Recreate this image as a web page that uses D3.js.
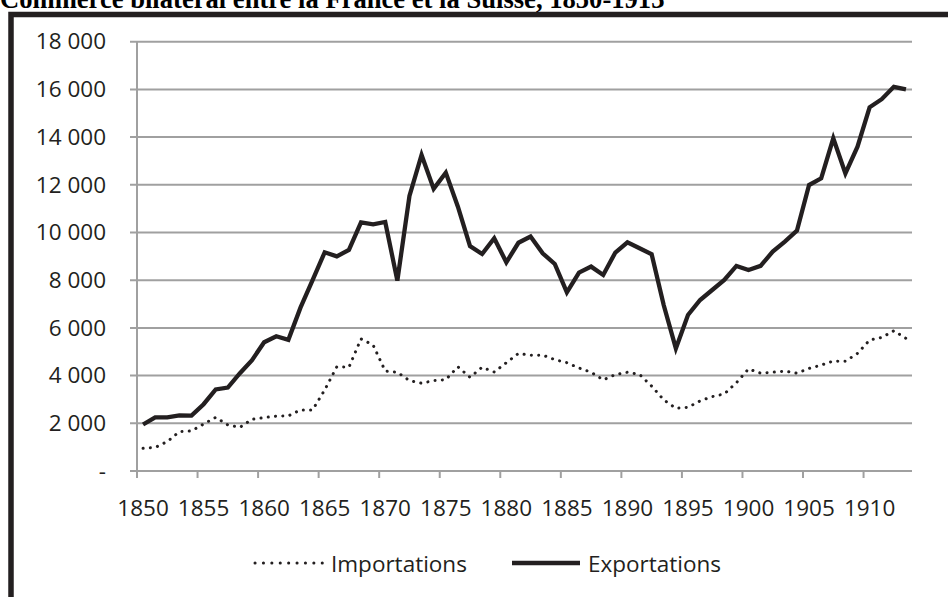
<!DOCTYPE html>
<html lang="fr">
<head>
<meta charset="UTF-8" />
<title>Commerce bilatéral entre la France et la Suisse, 1850-1913</title>
<style>
  html, body { margin: 0; background: #fff; }
  svg { display: block; }
  .axis text { font-family: "Open Sans", sans-serif; font-size: 22.5px; fill: #231f20; }
  .legend text { font-family: "Open Sans", sans-serif; font-size: 22.5px; fill: #231f20; }
  .title { font-family: "Liberation Serif", "Times New Roman", serif; font-weight: bold; font-size: 26.6px; fill: #000; }
</style>
<script src="https://cdn.jsdelivr.net/npm/d3@7"></script>
</head>
<body>
<script>
// données
const years = [
  1850, 1851, 1852, 1853, 1854, 1855, 1856, 1857, 1858, 1859,
  1860, 1861, 1862, 1863, 1864, 1865, 1866, 1867, 1868, 1869,
  1870, 1871, 1872, 1873, 1874, 1875, 1876, 1877, 1878, 1879,
  1880, 1881, 1882, 1883, 1884, 1885, 1886, 1887, 1888, 1889,
  1890, 1891, 1892, 1893, 1894, 1895, 1896, 1897, 1898, 1899,
  1900, 1901, 1902, 1903, 1904, 1905, 1906, 1907, 1908, 1909,
  1910, 1911, 1912, 1913
];
const importations = [
  950, 990, 1230, 1650, 1680, 1970, 2250, 1930, 1830, 2170,
  2240, 2300, 2310, 2560, 2560, 3400, 4370, 4350, 5540, 5280,
  4190, 4140, 3790, 3680, 3790, 3830, 4370, 3930, 4350, 4150,
  4540, 4930, 4850, 4860, 4670, 4540, 4320, 4140, 3820, 4040,
  4140, 4050, 3560, 2980, 2630, 2670, 2940, 3120, 3230, 3700,
  4280, 4100, 4140, 4190, 4100, 4300, 4440, 4610, 4600, 4930,
  5490, 5600, 5880, 5560
];
const exportations = [
  1950, 2250, 2250, 2330, 2320, 2800, 3420, 3500, 4100, 4650,
  5400, 5650, 5500, 6850, 8000, 9170, 9000, 9270, 10420, 10340,
  10440, 7980, 11530, 13250, 11830, 12510, 11080, 9430, 9100, 9760,
  8750, 9570, 9830, 9130, 8680, 7490, 8320, 8570, 8220, 9160,
  9590, 9340, 9090, 6950, 5140, 6540, 7170, 7590, 8010, 8600,
  8430, 8600, 9200, 9620, 10080, 11990, 12270, 13950, 12480, 13600,
  15250, 15590, 16110, 16000
];
const xTickYears = [1850, 1855, 1860, 1865, 1870, 1875, 1880, 1885, 1890, 1895, 1900, 1905, 1910];
const yTicks = [0, 2000, 4000, 6000, 8000, 10000, 12000, 14000, 16000, 18000];
const seriesNames = ["Importations", "Exportations"];
const title = "Commerce bilatéral entre la France et la Suisse, 1850-1913";

const width = 948;
const height = 597;
const margin = { left: 137, right: 36, top: 41.7, bottom: 126 };
const ink = "#231f20";
const gridColor = "#a0a0a0";

const svg = d3.select("body").append("svg")
  .attr("width", width)
  .attr("height", height);

// cadre noir épais
svg.append("rect")
  .attr("x", 11).attr("y", 14.5)
  .attr("width", 1000).attr("height", 1000)
  .attr("fill", "none")
  .attr("stroke", ink)
  .attr("stroke-width", 5.5);

// titre (coupé en haut)
svg.append("text")
  .attr("class", "title")
  .attr("x", 0).attr("y", 8)
  .text(title);

const x = d3.scaleBand()
  .domain(years)
  .range([margin.left, width - margin.right]);

const y = d3.scaleLinear()
  .domain([0, 18000])
  .range([height - margin.bottom, margin.top]);

const fr = d3.formatLocale({ decimal: ",", thousands: " ", grouping: [3], currency: ["", ""] });
const fmt = v => v === 0 ? "-" : fr.format(",d")(v);

// grille horizontale + graduations gauche
svg.append("g")
  .selectAll("line")
  .data(yTicks)
  .join("line")
  .attr("x1", margin.left - 7)
  .attr("x2", width - margin.right)
  .attr("y1", d => y(d))
  .attr("y2", d => y(d))
  .attr("stroke", gridColor)
  .attr("stroke-width", 2);

// axe Y
const yAxis = svg.append("g")
  .attr("class", "axis")
  .attr("transform", `translate(${margin.left},0)`)
  .call(d3.axisLeft(y).tickValues(yTicks).tickFormat(fmt).tickSize(7).tickPadding(24).tickSizeOuter(0));
yAxis.select(".domain").remove();
yAxis.selectAll(".tick line").remove();
yAxis.append("line")
  .attr("x1", 0).attr("x2", 0)
  .attr("y1", y(18000)).attr("y2", y(0) + 7)
  .attr("stroke", gridColor).attr("stroke-width", 2);

// axe X
const xAxis = svg.append("g")
  .attr("class", "axis")
  .attr("transform", `translate(0,${y(0)})`)
  .call(d3.axisBottom(x).tickValues(xTickYears).tickSize(0).tickPadding(29));
xAxis.select(".domain").remove();
xAxis.selectAll(".tick text").attr("dy", "0.71em");
xAxis.selectAll(".tickmark")
  .data(xTickYears)
  .join("line")
  .attr("class", "tickmark")
  .attr("x1", d => x(d)).attr("x2", d => x(d))
  .attr("y1", 0).attr("y2", 7)
  .attr("stroke", gridColor).attr("stroke-width", 2);

// courbes
const line = d3.line()
  .x((d, i) => x(years[i]) + x.bandwidth() / 2)
  .y(d => y(d));

svg.append("path")
  .datum(importations)
  .attr("d", line)
  .attr("fill", "none")
  .attr("stroke", ink)
  .attr("stroke-width", 3)
  .attr("stroke-linecap", "round")
  .attr("stroke-dasharray", "0.1 7.2");

svg.append("path")
  .datum(exportations)
  .attr("d", line)
  .attr("fill", "none")
  .attr("stroke", ink)
  .attr("stroke-width", 4.3)
  .attr("stroke-linejoin", "miter");

// légende
const legend = svg.append("g").attr("class", "legend");
const legendItems = [
  { name: seriesNames[0], x0: 255, dash: "0.1 8.3", w: 3, cap: "round" },
  { name: seriesNames[1], x0: 512, dash: null, w: 4.3, cap: "butt" }
];
legendItems.forEach(it => {
  legend.append("line")
    .attr("x1", it.x0).attr("x2", it.x0 + 68)
    .attr("y1", 563).attr("y2", 563)
    .attr("stroke", ink)
    .attr("stroke-width", it.w)
    .attr("stroke-linecap", it.cap)
    .attr("stroke-dasharray", it.dash);
  legend.append("text")
    .attr("x", it.x0 + 76)
    .attr("y", 571.5)
    .text(it.name);
});
</script>
</body>
</html>
